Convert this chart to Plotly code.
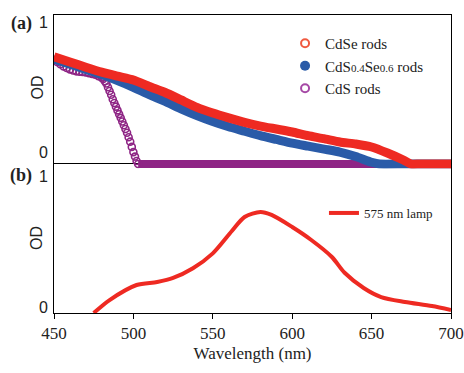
import plotly.graph_objects as go

# ---- Panel (a): absorption spectra (OD) ----
cdse_wl = [450, 460, 470, 480, 490, 500, 510, 520, 530, 540, 550, 560, 570, 580, 590,
           600, 610, 620, 630, 640, 650, 660, 670, 675, 680, 690, 700]
cdse_od = [0.72, 0.685, 0.65, 0.617, 0.59, 0.564, 0.52, 0.48, 0.43, 0.38, 0.342, 0.31, 0.28,
           0.255, 0.235, 0.215, 0.19, 0.17, 0.148, 0.134, 0.114, 0.074, 0.027, 0.0, 0.0, 0.0, 0.0]

cdsse_wl = [450, 460, 470, 480, 490, 500, 510, 520, 530, 540, 550, 560, 570, 580, 590,
            600, 610, 620, 630, 640, 650, 655, 670, 690, 700]
cdsse_od = [0.705, 0.67, 0.635, 0.60, 0.56, 0.515, 0.465, 0.42, 0.37, 0.325, 0.285, 0.25, 0.22,
            0.19, 0.165, 0.14, 0.12, 0.10, 0.08, 0.05, 0.012, 0.0, 0.0, 0.0, 0.0]

cds_wl = [450, 452, 454, 456, 458, 460, 462, 464, 466, 468, 470, 472, 474, 476, 478, 480,
          481, 482, 483, 484, 485, 486, 487, 488, 489, 490, 491, 492, 493, 494, 495, 496,
          497, 498, 499, 500, 501, 502, 503]
cds_od = [0.70, 0.685, 0.67, 0.655, 0.645, 0.635, 0.628, 0.622, 0.62, 0.618, 0.615, 0.61,
          0.605, 0.60, 0.59, 0.58, 0.57, 0.555, 0.54, 0.515, 0.49, 0.465, 0.435, 0.41, 0.385,
          0.36, 0.335, 0.31, 0.285, 0.26, 0.235, 0.21, 0.18, 0.15, 0.115, 0.08, 0.05, 0.02, 0.0]
cds_flat_wl = [503, 700]
cds_flat_od = [0.0, 0.0]

# ---- Panel (b): lamp spectrum ----
lamp_wl = [475, 485, 502, 515, 525, 537.5, 550, 562, 570, 580, 587, 600, 612, 625, 633,
           645, 656, 671, 688, 700]
lamp_od = [0.0, 0.087, 0.188, 0.208, 0.235, 0.30, 0.40, 0.55, 0.644, 0.678, 0.658, 0.577,
           0.49, 0.376, 0.27, 0.168, 0.107, 0.074, 0.047, 0.02]

x_ticks = [450, 500, 550, 600, 650, 700]

RED = "#EE2A22"
BLUE = "#2A5BA8"
PURPLE = "#8E2585"
PURPLE_LIGHT = "#A548A5"

fig = go.Figure()

fig.add_trace(go.Scatter(x=cds_flat_wl, y=cds_flat_od, xaxis="x2", yaxis="y2", mode="lines",
                         line=dict(color=PURPLE, width=8), showlegend=False, hoverinfo="skip"))
fig.add_trace(go.Scatter(x=cds_wl, y=cds_od, xaxis="x2", yaxis="y2", mode="markers",
                         marker=dict(symbol="circle-open", size=7, color=PURPLE,
                                     line=dict(width=1.6, color=PURPLE)),
                         showlegend=False))
fig.add_trace(go.Scatter(x=cdsse_wl, y=cdsse_od, xaxis="x2", yaxis="y2", mode="lines",
                         line=dict(color=BLUE, width=9, shape="spline", smoothing=0.5),
                         showlegend=False))
fig.add_trace(go.Scatter(x=cdse_wl, y=cdse_od, xaxis="x2", yaxis="y2", mode="lines",
                         line=dict(color=RED, width=9, shape="spline", smoothing=0.5),
                         showlegend=False))

fig.add_trace(go.Scatter(x=[None], y=[None], xaxis="x2", yaxis="y2", mode="markers",
                         name="CdSe rods", legend="legend",
                         marker=dict(symbol="circle-open", size=8, color="#F05A40",
                                     line=dict(width=2))))
fig.add_trace(go.Scatter(x=[None], y=[None], xaxis="x2", yaxis="y2", mode="markers",
                         name='CdS<span style="font-size:11px">0.4</span>Se<span style="font-size:11px">0.6</span> rods',
                         legend="legend",
                         marker=dict(symbol="circle", size=10, color=BLUE)))
fig.add_trace(go.Scatter(x=[None], y=[None], xaxis="x2", yaxis="y2", mode="markers",
                         name="CdS rods", legend="legend",
                         marker=dict(symbol="circle-open", size=8, color=PURPLE_LIGHT,
                                     line=dict(width=2))))

fig.add_trace(go.Scatter(x=lamp_wl, y=lamp_od, xaxis="x", yaxis="y", mode="lines",
                         name="575 nm lamp", legend="legend2",
                         line=dict(color=RED, width=4, shape="spline", smoothing=0.8)))

SERIF = "Liberation Serif"
SANS = "Liberation Sans"

fig.update_layout(
    width=464, height=373,
    margin=dict(l=54, r=13, t=15, b=60, autoexpand=False),
    paper_bgcolor="white", plot_bgcolor="rgba(0,0,0,0)",
    font=dict(family=SERIF, color="#111"),
    xaxis=dict(domain=[0, 1], anchor="y", range=[450, 700], tickvals=x_ticks,
               ticks="outside", ticklen=5, tickcolor="black", showgrid=False, zeroline=False,
               showline=True, linecolor="black", linewidth=1, mirror=True, automargin=False,
               tickfont=dict(family=SERIF, size=17, color="#222"),
               title=dict(text="Wavelength (nm)", font=dict(family=SERIF, size=17, color="#222"),
                          standoff=4)),
    yaxis=dict(domain=[0, 0.5], anchor="x", range=[0, 1], showticklabels=False, ticks="",
               showgrid=False, zeroline=False, showline=True, linecolor="black", linewidth=1,
               mirror=True, automargin=False),
    xaxis2=dict(domain=[0, 1], anchor="y2", matches="x", range=[450, 700], side="top",
                showticklabels=False, ticks="", showgrid=False, zeroline=False,
                showline=True, linecolor="black", linewidth=1, mirror=False, automargin=False),
    yaxis2=dict(domain=[0.4849, 1.0], anchor="x2", range=[-0.030, 1], showticklabels=False,
                ticks="", showgrid=False, zeroline=False, showline=True, linecolor="black",
                linewidth=1, mirror=True, automargin=False),
    legend=dict(x=0.582, y=0.96, xanchor="left", yanchor="top", bgcolor="rgba(0,0,0,0)",
                font=dict(family=SERIF, size=15, color="#222"), itemwidth=30,
                tracegroupgap=0),
    legend2=dict(x=0.68, y=0.3356, xanchor="left", yanchor="middle", bgcolor="rgba(0,0,0,0)",
                 font=dict(family=SERIF, size=13, color="#222"), itemwidth=30),
)

ann = []
def lab(text, x, y, size, family, bold=False, angle=0):
    ann.append(dict(text=("<b>%s</b>" % text) if bold else text, x=x, y=y, xref="paper",
                    yref="paper", xanchor="center", yanchor="middle", showarrow=False,
                    textangle=angle, font=dict(family=family, size=size, color="#222")))

lab("1", -0.0277, 0.975, 16, SANS)
lab("0", -0.0277, 0.5386, 16, SANS)
lab("1", -0.0277, 0.4597, 16, SANS)
lab("0", -0.0277, 0.0168, 16, SANS)
lab("OD", -0.0428, 0.7567, 16, SANS, angle=-90)
lab("OD", -0.0428, 0.2517, 16, SANS, angle=-90)
lab("(a)", -0.0831, 0.973, 18, SERIF, bold=True)
lab("(b)", -0.0831, 0.463, 18, SERIF, bold=True)
fig.update_layout(annotations=ann)

fig.write_html("out.html", config={"displayModeBar": False},
               post_script="document.body.style.margin='0';document.body.style.padding='0';")
